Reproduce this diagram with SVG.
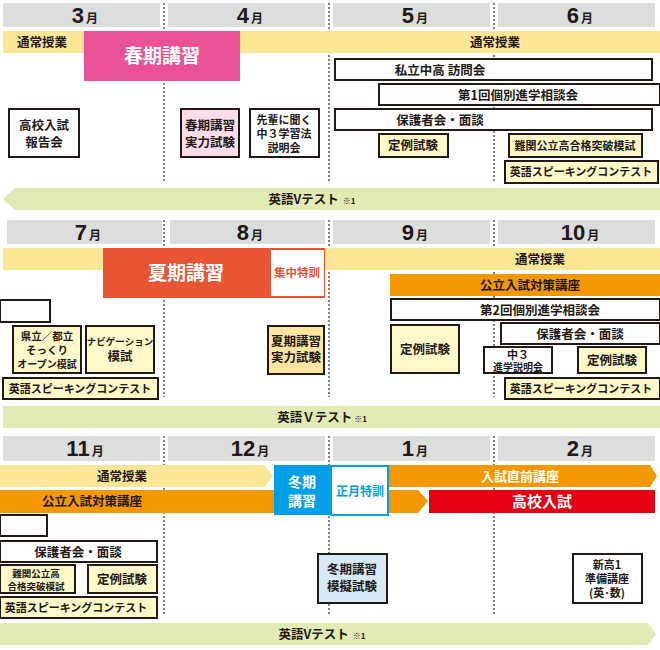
<svg xmlns="http://www.w3.org/2000/svg" width="660" height="650" viewBox="0 0 660 650">
<style>
text{font-family:"Noto Sans CJK JP","Noto Sans",sans-serif;font-weight:bold;text-anchor:middle;fill:#231815}
.hd{fill:#dcdddd}
tspan.m{font-size:22px;font-family:"Liberation Sans","Noto Sans CJK JP",sans-serif}
tspan.mu{font-size:12px}
.b{fill:#fff;stroke:#231815;stroke-width:2}
.y{fill:#fff8c8;stroke:#231815;stroke-width:2}
.t{font-size:12.5px}
.s{font-size:11px}
.dot{stroke:#595757;stroke-width:1.5;stroke-dasharray:2 2;fill:none}
.ub{fill:#fde796}
.gr{fill:#e3ebb4}
.w{fill:#fff}
</style>
<g id="headers">
<rect class="hd" x="3" y="3" width="157" height="24"/><rect class="hd" x="168" y="3" width="157" height="24"/><rect class="hd" x="333" y="3" width="157" height="24"/><rect class="hd" x="498" y="3" width="157" height="24"/>
<text x="85" y="23"><tspan class="m">3</tspan><tspan class="mu" dx="2">月</tspan></text>
<text x="250" y="23"><tspan class="m">4</tspan><tspan class="mu" dx="2">月</tspan></text>
<text x="415" y="23"><tspan class="m">5</tspan><tspan class="mu" dx="2">月</tspan></text>
<text x="580" y="23"><tspan class="m">6</tspan><tspan class="mu" dx="2">月</tspan></text>
<rect class="hd" x="7" y="220" width="155" height="24"/><rect class="hd" x="170" y="220" width="155" height="24"/><rect class="hd" x="333" y="220" width="157" height="24"/><rect class="hd" x="498" y="220" width="157" height="24"/>
<text x="88" y="240"><tspan class="m">7</tspan><tspan class="mu" dx="2">月</tspan></text>
<text x="250" y="240"><tspan class="m">8</tspan><tspan class="mu" dx="2">月</tspan></text>
<text x="415" y="240"><tspan class="m">9</tspan><tspan class="mu" dx="2">月</tspan></text>
<text x="580" y="240"><tspan class="m">10</tspan><tspan class="mu" dx="2">月</tspan></text>
<rect class="hd" x="3" y="436" width="157" height="25"/><rect class="hd" x="168" y="436" width="157" height="25"/><rect class="hd" x="333" y="436" width="157" height="25"/><rect class="hd" x="498" y="436" width="157" height="25"/>
<text x="85" y="456"><tspan class="m">11</tspan><tspan class="mu" dx="2">月</tspan></text>
<text x="250" y="456"><tspan class="m">12</tspan><tspan class="mu" dx="2">月</tspan></text>
<text x="415" y="456"><tspan class="m">1</tspan><tspan class="mu" dx="2">月</tspan></text>
<text x="580" y="456"><tspan class="m">2</tspan><tspan class="mu" dx="2">月</tspan></text>
</g>
<g id="connectors">
<path class="dot" d="M164 3V181M329 3V181M494 3V181M164 220V397M329 220V397M494 220V397M164 436V615M329 436V615M494 436V615"/>
</g>
<g id="row1">
<rect class="ub" x="3" y="31" width="657" height="22"/>
<text class="t" x="42" y="47">通常授業</text>
<text class="t" x="495" y="47">通常授業</text>
<rect x="84" y="31" width="156" height="50" fill="#e95295"/>
<text x="162" y="63" style="font-size:19px;fill:#fff">春期講習</text>
<rect class="b" x="335" y="59" width="317" height="21"/><text class="t" x="440" y="75">私立中高 訪問会</text>
<rect class="b" x="379" y="84" width="281" height="21"/><text class="t" x="518" y="100">第1回個別進学相談会</text>
<rect class="b" x="335" y="109" width="317" height="21"/><text class="t" x="440" y="125">保護者会・面談</text>
<rect class="y" x="379" y="134" width="69" height="23"/><text class="t" x="413" y="150">定例試験</text>
<rect class="y" x="509" y="134" width="133" height="23"/><text class="s" x="575" y="150">難関公立高合格突破模試</text>
<rect class="y" x="505" y="161" width="153" height="22"/><text class="s" x="581" y="176">英語スピーキングコンテスト</text>
<rect class="b" x="9" y="109" width="70" height="48"/><text class="t" x="44" y="130">高校入試</text><text class="t" x="44" y="147">報告会</text>
<rect x="181" y="109" width="58" height="48" fill="#fadcea" stroke="#231815" stroke-width="2"/><text class="t" x="210" y="130">春期講習</text><text class="t" x="210" y="147">実力試験</text>
<rect class="b" x="250" y="109" width="69" height="48"/><text class="s" x="284" y="124">先輩に聞く</text><text class="s" x="284" y="138">中３学習法</text><text class="s" x="284" y="152">説明会</text>
<path class="gr" d="M15 188H660V210H15L3 199Z"/>
<text class="t" x="312" y="204">英語Vテスト<tspan style="font-size:8px" dx="4">※1</tspan></text>
</g>
<g id="row2">
<rect class="ub" x="3" y="248" width="657" height="22"/>
<text class="t" x="540" y="264">通常授業</text>
<rect x="103" y="248" width="222" height="50" fill="#e95532"/>
<text x="186" y="280" style="font-size:19px;fill:#fff">夏期講習</text>
<rect class="w" x="271" y="250" width="53" height="46"/>
<text x="297" y="277" style="font-size:11.5px;fill:#e95532">集中特訓</text>
<rect x="390" y="274" width="270" height="22" fill="#f39800"/><text class="t" x="530" y="290">公立入試対策講座</text>
<rect class="b" x="391" y="299" width="269" height="21"/><text class="t" x="540" y="315">第2回個別進学相談会</text>
<rect class="b" x="0" y="300" width="50" height="22"/>
<rect class="b" x="501" y="323" width="159" height="21"/><text class="t" x="580" y="339">保護者会・面談</text>
<rect class="y" x="391" y="325" width="68" height="48"/><text class="t" x="425" y="354">定例試験</text>
<rect class="b" x="484" y="347" width="68" height="26"/><text x="518" y="359" style="font-size:11px">中３</text><text x="518" y="371" style="font-size:10px">進学説明会</text>
<rect class="y" x="578" y="347" width="68" height="26"/><text class="t" x="612" y="365">定例試験</text>
<rect class="y" x="505" y="378" width="155" height="21"/><text class="s" x="581" y="393">英語スピーキングコンテスト</text>
<rect class="y" x="13" y="326" width="68" height="47"/><text x="47" y="340" style="font-size:10.5px">県立／都立</text><text x="47" y="354" style="font-size:10.5px">そっくり</text><text x="47" y="368" style="font-size:10px">オープン模試</text>
<rect class="y" x="86" y="326" width="68" height="47"/><text x="120" y="345" style="font-size:9.5px">ナビゲーション</text><text class="t" x="120" y="361">模試</text>
<rect class="y" x="3" y="378" width="155" height="21"/><text class="s" x="80" y="393">英語スピーキングコンテスト</text>
<rect x="268" y="326" width="56" height="48" fill="#fde5a0" stroke="#231815" stroke-width="2"/><text class="t" x="296" y="346">夏期講習</text><text class="t" x="296" y="362">実力試験</text>
<rect class="gr" x="3" y="406" width="657" height="22"/>
<text class="t" x="322" y="422">英語Ｖテスト<tspan style="font-size:8px" dx="2">※1</tspan></text>
</g>
<g id="row3">
<path class="ub" d="M0 465H265L273 476L265 487H0Z"/>
<text class="t" x="122" y="481">通常授業</text>
<rect x="0" y="490" width="276" height="23" fill="#f39800"/>
<text class="t" x="92" y="506">公立入試対策講座</text>
<rect x="274" y="465" width="56" height="50" fill="#00a0e9"/>
<text x="302" y="487" style="font-size:14px;fill:#fff">冬期</text><text x="302" y="506" style="font-size:14px;fill:#fff">講習</text>
<rect x="331" y="466" width="57" height="49" fill="#fff" stroke="#00a0e9" stroke-width="2"/>
<text x="360" y="496" style="font-size:12px;fill:#00a0e9">正月特訓</text>
<path d="M389 465H650L657 476L650 487H389Z" fill="#f39800"/>
<text x="520" y="481" style="font-size:13px;fill:#fff">入試直前講座</text>
<path d="M389 490H418L428 501L418 513H389Z" fill="#f39800"/>
<rect x="429" y="490" width="226" height="23" fill="#e60012"/>
<text x="542" y="507" style="font-size:15px;fill:#fff">高校入試</text>
<rect class="b" x="0" y="515" width="47" height="21"/>
<rect class="b" x="0" y="541" width="157" height="21"/><text class="t" x="78" y="557">保護者会・面談</text>
<rect class="y" x="0" y="565" width="75" height="28"/><text x="36" y="577" style="font-size:9.5px">難関公立高</text><text x="36" y="590" style="font-size:9.5px">合格突破模試</text>
<rect class="y" x="88" y="565" width="69" height="28"/><text class="t" x="122" y="584">定例試験</text>
<rect class="y" x="0" y="597" width="157" height="21"/><text class="s" x="76" y="612">英語スピーキングコンテスト</text>
<rect x="318" y="554" width="69" height="49" fill="#d6eaf8" stroke="#231815" stroke-width="2"/><text class="t" x="352" y="574">冬期講習</text><text class="t" x="352" y="591">模擬試験</text>
<rect class="b" x="573" y="554" width="69" height="49"/><text class="s" x="607" y="569">新高1</text><text class="s" x="607" y="583">準備講座</text><text class="s" x="607" y="597">(英･数)</text>
<path class="gr" d="M0 623H648L656 634L648 645H0Z"/>
<text class="t" x="322" y="639">英語Vテスト<tspan style="font-size:8px" dx="4">※1</tspan></text>
</g>
</svg>
